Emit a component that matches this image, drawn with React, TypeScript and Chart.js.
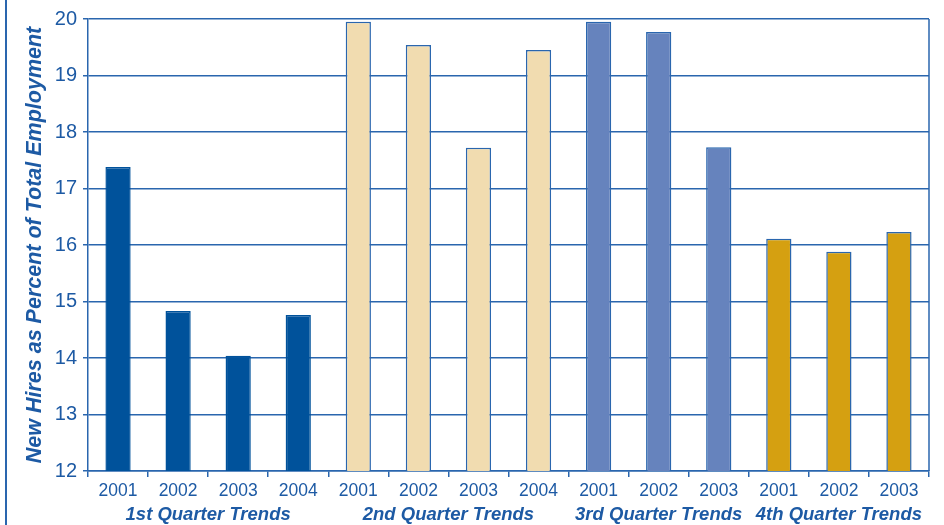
import React, { useEffect, useRef } from "react";
import { Chart, registerables } from "chart.js";

Chart.register(...registerables);

const q1Years = ["2001", "2002", "2003", "2004"];
const q2Years = ["2001", "2002", "2003", "2004"];
const q3Years = ["2001", "2002", "2003"];
const q4Years = ["2001", "2002", "2003"];

const q1Values = [17.38, 14.83, 14.04, 14.76];
const q2Values = [19.95, 19.54, 17.72, 19.45];
const q3Values = [19.95, 19.77, 17.73];
const q4Values = [16.11, 15.88, 16.23];

const groupLabels = ["1st Quarter Trends", "2nd Quarter Trends", "3rd Quarter Trends", "4th Quarter Trends"];
const groupColors = ["#00529b", "#f1dcb0", "#6683bd", "#d5a011"];

const yTicks = [12, 13, 14, 15, 16, 17, 18, 19, 20];
const yTitle = "New Hires as Percent of Total Employment";

const BLUE = "#1d5aa4";
const LINE = "#2a66ae";
const FONT = "'Liberation Sans', Arial, sans-serif";

export default function App() {
  const ref = useRef<HTMLCanvasElement | null>(null);

  useEffect(() => {
    const groups = [
      { years: q1Years, values: q1Values },
      { years: q2Years, values: q2Values },
      { years: q3Years, values: q3Values },
      { years: q4Years, values: q4Values },
    ];
    const labels: string[] = [];
    const data: number[] = [];
    const colors: string[] = [];
    const borders: string[] = [];
    const ranges: [number, number][] = [];
    groups.forEach((g, gi) => {
      const start = labels.length;
      g.years.forEach((y, i) => {
        labels.push(y);
        data.push(g.values[i]);
        colors.push(groupColors[gi]);
        borders.push(gi === 0 ? groupColors[0] : LINE);
      });
      ranges.push([start, labels.length - 1]);
    });

    const groupPlugin = {
      id: "groupLabels",
      afterDraw(chart: any) {
        const ctx = chart.ctx;
        const xs = chart.scales.x;
        const area = chart.chartArea;
        ctx.save();
        ctx.strokeStyle = LINE;
        ctx.lineWidth = 1.5;
        ctx.beginPath();
        ctx.moveTo(area.right, area.top);
        ctx.lineTo(area.right, area.bottom);
        ctx.stroke();
        ctx.fillStyle = BLUE;
        ctx.font = `italic bold 18.5px ${FONT}`;
        ctx.textAlign = "center";
        ctx.textBaseline = "middle";
        ranges.forEach(([a, b], i) => {
          const cx = (xs.getPixelForValue(a) + xs.getPixelForValue(b)) / 2;
          ctx.fillText(groupLabels[i], cx, 515);
        });
        ctx.restore();
      },
    };

    const chart = new Chart(ref.current as HTMLCanvasElement, {
      type: "bar",
      data: {
        labels,
        datasets: [
          {
            data,
            backgroundColor: colors,
            borderColor: borders,
            borderWidth: 1.5,
            barPercentage: 0.42,
            categoryPercentage: 1,
          },
        ],
      },
      options: {
        animation: false,
        responsive: false,
        layout: { padding: { left: 0, top: 19, right: 15, bottom: 0 } },
        plugins: { legend: { display: false }, tooltip: { enabled: false } },
        scales: {
          x: {
            grid: {
              offset: true,
              drawOnChartArea: false,
              drawTicks: true,
              tickLength: 6,
              color: LINE,
              lineWidth: 1.5,
            },
            border: { color: LINE, width: 1.5 },
            ticks: {
              color: BLUE,
              padding: 4,
              font: { family: FONT, size: 17.5 },
              maxRotation: 0,
              autoSkip: false,
            },
            afterFit: (s: any) => {
              s.height = 54;
            },
          },
          y: {
            min: yTicks[0],
            max: yTicks[yTicks.length - 1],
            afterBuildTicks: (s: any) => {
              s.ticks = yTicks.map((v) => ({ value: v }));
            },
            grid: {
              color: LINE,
              lineWidth: 1.5,
              drawTicks: true,
              tickLength: 5,
            },
            border: { color: LINE, width: 1.5 },
            ticks: {
              color: BLUE,
              padding: 6,
              font: { family: FONT, size: 20 },
            },
            title: {
              display: true,
              text: yTitle,
              color: BLUE,
              padding: { top: 22, bottom: 0 },
              font: { family: FONT, size: 21.5, weight: "bold", style: "italic" },
            },
            afterFit: (s: any) => {
              s.width = 88;
            },
          },
        },
      },
      plugins: [groupPlugin],
    });
    return () => chart.destroy();
  }, []);

  return (
    <div style={{ position: "fixed", left: 0, top: 0, width: 944, height: 525, background: "#fff" }}>
      <div style={{ position: "absolute", left: 5, top: 0, width: 2, height: 525, background: LINE }} />
      <canvas ref={ref} width={944} height={525} style={{ position: "absolute", left: 0, top: 0 }} />
    </div>
  );
}
